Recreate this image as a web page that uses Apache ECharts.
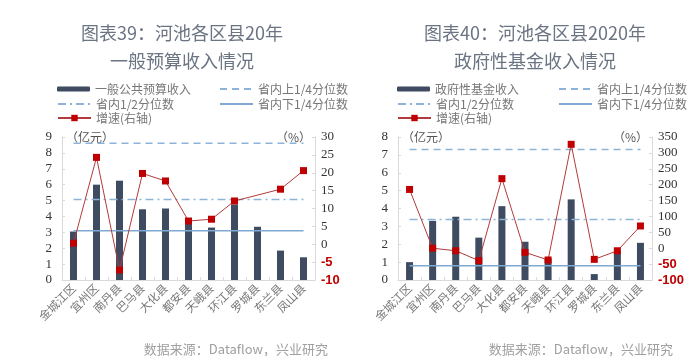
<!DOCTYPE html>
<html><head><meta charset="utf-8">
<script src="https://cdn.jsdelivr.net/npm/echarts@6/dist/echarts.min.js"></script>
<style>html,body{margin:0;padding:0;background:#fff}#c{width:700px;height:363px}</style>
</head><body><div id="c"></div>
<script>
const categories = ['金城江区','宜州区','南丹县','巴马县','大化县','都安县','天峨县','环江县','罗城县','东兰县','凤山县'];
// chart 39
const budgetRevenue = [3.05, 6.0, 6.25, 4.45, 4.5, 3.55, 3.3, 4.75, 3.35, 1.85, 1.43];
const budgetGrowth = [0.3, 24.3, -7.2, 19.8, 17.7, 6.5, 7.0, 12.1, null, 15.4, 20.6];
const budgetUpperQ = 8.6, budgetMedian = 5.07, budgetLowerQ = 3.1;
// chart 40
const fundRevenue = [1.0, 3.31, 3.54, 2.37, 4.13, 2.14, 1.2, 4.51, 0.33, 1.6, 2.08];
const fundGrowth = [185, 0, -8, -39, 219, -13, -37, 327, -35, -8, 70];
const fundUpperQ = 7.3, fundMedian = 3.39, fundLowerQ = 0.8;

const leftTicks = {min1:0, max1:9, int1:1, min2:-10, max2:30, int2:5};
const rightTicks = {min1:0, max1:8, int1:1, min2:-100, max2:350, int2:50};

const barColor = '#3e4b61';
const refColor = '#8db4d8';
const redColor = '#c00000';
const serif = 'Liberation Serif';
const cjk = 'Noto Sans CJK SC';

const chart = echarts.init(document.getElementById('c'));

function legend(name, x, y, h, hideSymbol) {
  const l = { data:[name], left:x, top:y, itemWidth:33, itemHeight:h, selectedMode:false, padding:0,
    textStyle:{ fontFamily:cjk, fontSize:12, color:'#777' } };
  if (hideSymbol) l.itemStyle = { opacity:0 };
  return l;
}
function constLine(v){ return categories.map(() => v); }

function leftAxis(gi, t, axisName) {
  return { type:'value', gridIndex:gi, position:'left', min:t.min1, max:t.max1, interval:t.int1,
    splitLine:{show:false},
    axisLine:{show:true, lineStyle:{color:'#d9d9d9'}},
    axisTick:{show:true, inside:true, length:3, lineStyle:{color:'#d9d9d9'}},
    axisLabel:{fontFamily:serif, fontSize:13, color:'#333', margin:10},
    name:axisName, nameLocation:'end', nameGap:0,
    nameTextStyle:{fontFamily:cjk, fontSize:12, color:'#555', align:'left', verticalAlign:'middle', padding:[0,0,0,4]} };
}
function rightAxis(gi, t) {
  return { type:'value', gridIndex:gi, position:'right', min:t.min2, max:t.max2, interval:t.int2,
    splitLine:{show:false},
    axisLine:{show:true, lineStyle:{color:'#d9d9d9'}},
    axisTick:{show:true, inside:true, length:3, lineStyle:{color:'#d9d9d9'}},
    axisLabel:{margin:6, formatter: v => v < 0 ? '{n|' + v + '}' : '{p|' + v + '}',
      rich:{ p:{fontFamily:serif, fontSize:13, color:'#333'}, n:{fontFamily:'Liberation Sans', fontWeight:'bold', fontSize:13, color:redColor} } },
    name:'（%）', nameLocation:'end', nameGap:0,
    nameTextStyle:{fontFamily:cjk, fontSize:12, color:'#555', align:'right', verticalAlign:'middle', padding:[0,4,0,0]} };
}
function xAxis(gi) {
  return { type:'category', gridIndex:gi, data:categories,
    axisLine:{lineStyle:{color:'#d9d9d9'}},
    axisTick:{show:true, inside:true, length:3, lineStyle:{color:'#d9d9d9'}},
    axisLabel:{rotate:45, interval:0, fontFamily:cjk, fontSize:11.5, color:'#777', margin:6} };
}
function seriesSet(gi, barName, bars, up, med, low, growth) {
  const xa = gi, ya = gi*2;
  return [
    { name:barName, type:'bar', xAxisIndex:xa, yAxisIndex:ya, data:bars, barWidth:7, itemStyle:{color:barColor} },
    { name:'省内上1/4分位数', type:'line', xAxisIndex:xa, yAxisIndex:ya, data:constLine(up), symbol:'none',
      lineStyle:{color:refColor, width:1.5, type:[7,5]}, itemStyle:{color:refColor} },
    { name:'省内1/2分位数', type:'line', xAxisIndex:xa, yAxisIndex:ya, data:constLine(med), symbol:'none',
      lineStyle:{color:refColor, width:1.5, type:[8,4,2,4]}, itemStyle:{color:refColor} },
    { name:'省内下1/4分位数', type:'line', xAxisIndex:xa, yAxisIndex:ya, data:constLine(low), symbol:'none',
      lineStyle:{color:'#7fa9d2', width:1.5}, itemStyle:{color:'#7fa9d2'} },
    { name:'增速(右轴)', type:'line', xAxisIndex:xa, yAxisIndex:ya+1, data:growth, connectNulls:true,
      symbol:'rect', symbolSize:7, lineStyle:{color:'#b23a3a', width:1}, itemStyle:{color:redColor}, z:5 }
  ];
}

chart.setOption({
  animation:false,
  title:[
    { text:'图表39：河池各区县20年\n一般预算收入情况', left:177, top:14, textAlign:'center',
      textStyle:{fontFamily:cjk, fontSize:18, fontWeight:'normal', color:'#6b7482', lineHeight:28} },
    { text:'图表40：河池各区县2020年\n政府性基金收入情况', left:530, top:14, textAlign:'center',
      textStyle:{fontFamily:cjk, fontSize:18, fontWeight:'normal', color:'#6b7482', lineHeight:28} },
    { text:'数据来源：Dataflow，兴业研究', right:367, top:338, textStyle:{fontFamily:cjk, fontSize:13, fontWeight:'normal', color:'#a0a0a0'} },
    { text:'数据来源：Dataflow，兴业研究', right:22, top:338, textStyle:{fontFamily:cjk, fontSize:13, fontWeight:'normal', color:'#a0a0a0'} }
  ],
  legend:[
    legend('一般公共预算收入', 57, 83, 5, false),
    legend('省内上1/4分位数', 219, 83, 10, true),
    legend('省内1/2分位数', 57, 98, 10, true),
    legend('省内下1/4分位数', 219, 98, 10, true),
    legend('增速(右轴)', 57, 112, 8, false),
    legend('政府性基金收入', 397, 83, 5, false),
    legend('省内上1/4分位数', 558, 83, 10, true),
    legend('省内1/2分位数', 397, 98, 10, true),
    legend('省内下1/4分位数', 558, 98, 10, true),
    legend('增速(右轴)', 397, 112, 8, false)
  ],
  grid:[
    { left:62, right:385, top:137, bottom:83 },
    { left:398, right:48, top:137, bottom:83 }
  ],
  xAxis:[ xAxis(0), xAxis(1) ],
  yAxis:[ leftAxis(0, leftTicks, '（亿元）'), rightAxis(0, leftTicks), leftAxis(1, rightTicks, '（亿元）'), rightAxis(1, rightTicks) ],
  series:[
    ...seriesSet(0, '一般公共预算收入', budgetRevenue, budgetUpperQ, budgetMedian, budgetLowerQ, budgetGrowth),
    ...seriesSet(1, '政府性基金收入', fundRevenue, fundUpperQ, fundMedian, fundLowerQ, fundGrowth)
  ]
});
</script></body></html>
